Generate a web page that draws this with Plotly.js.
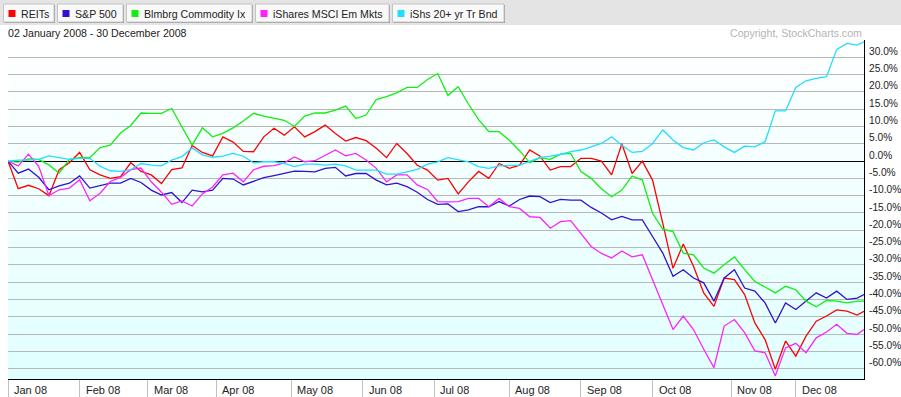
<!DOCTYPE html>
<html>
<head>
<meta charset="utf-8">
<script src="https://cdn.plot.ly/plotly-3.0.1.min.js"></script>
<style>html,body{margin:0;padding:0;background:#fff;}#chart{width:901px;height:397px;}</style>
</head>
<body>
<div id="chart"></div>
<script>
// trading-day index (0 = 02 Jan 2008, 251 = 30 Dec 2008)
const days = [0,3,6,9,12,15,18,21,24,27,30,33,36,39,42,45,48,51,54,57,60,63,66,69,72,75,78,81,84,87,90,93,96,99,102,105,108,111,114,117,120,123,126,129,132,135,138,141,144,147,150,153,156,159,162,165,168,171,174,177,180,183,186,189,192,195,198,201,204,207,210,213,216,219,222,225,228,231,234,237,240,243,246,249,251];

const reits = [0,-8,-7,-8,-10,-2.5,-0.5,2.5,-2.5,-4,-5,-4.5,-0.5,-3,-4,-6.5,-2.5,-2,4.5,2.5,1.5,7,5.5,2.8,2.7,7,9.5,7.5,9.9,7,8.5,10.4,8,5.8,6.8,5.9,3.7,1,5.1,2.2,-1.2,-2.6,-5.5,-5,-9.5,-6,-3,-5,-0.7,-2.1,-1.2,3.2,1.4,-2.6,-1.6,-1.6,0.8,0.8,0,-4,5,-3.6,0,-5.5,-18,-31,-24,-30.4,-38.1,-42,-33.8,-34.3,-38.6,-46.8,-51.6,-60.2,-52,-56.4,-50.6,-46.3,-44.8,-43,-43.4,-44.5,-43.4];

const sp500 = [0,-3.5,-2.3,-4.7,-8.3,-7.2,-6.4,-4.3,-7.8,-7.2,-6.4,-6.4,-5,-6.2,-8.4,-9.8,-9.1,-12,-8.4,-8.9,-8.4,-5,-5.2,-6.9,-5.8,-4.8,-4.2,-3.6,-2.9,-3,-3.1,-2.1,-1.8,-4.3,-3.6,-3.6,-5.5,-6.9,-6.4,-7.4,-9,-11.1,-12.5,-12.4,-14.6,-14.1,-13.2,-13.2,-11.7,-13,-11.1,-10.1,-10.3,-12,-11.1,-11.3,-11.3,-13.4,-15,-17,-16,-17,-17,-21.8,-26.6,-33.3,-31.4,-33.8,-35.2,-40.5,-33.8,-31.4,-36.7,-37.6,-41,-46.8,-41,-42.9,-40.5,-38.1,-39.6,-37.6,-40,-39.6,-38.6];

const commodity = [0,-0.3,0.6,0.5,-1.1,-3.5,0.5,1,1,3.9,4.6,8.1,10.3,13.9,13.8,13.8,15.2,9.9,4.6,9.6,7,8,9.6,11.6,13.8,13,12.3,11.8,10,13,13.9,13.9,14.7,15.9,12.3,13.3,17.8,18.6,19.7,21.3,21.3,23.6,25.3,19,21.5,16.5,12,8.5,8.5,6,3,-0.5,1,0.5,2,2.2,-3,-5,-8,-10.3,-8.4,-4.3,-5.5,-15.1,-19.7,-20.4,-26.6,-27.1,-30.9,-32.4,-30,-27.7,-31.4,-34.8,-36.4,-38.1,-36.2,-37.2,-40.5,-42.1,-40.3,-40.5,-41,-40.5,-40.5];

const emMkts = [0,-1.4,2,-1.5,-10,-8.3,-7.8,-5.4,-11.5,-9.3,-5.9,-4.7,-2.5,-2,-6,-9,-12.5,-11.5,-13,-9.5,-7.5,-4,-3.5,-6,-2.5,-1.5,-1.3,-0.5,1.2,-0.2,0.1,1.7,3.2,1.5,2.2,0.3,-2.1,-6,-4,-4,-6.9,-8.2,-11.7,-11.8,-11.7,-10.8,-10.8,-13.2,-10.8,-13.2,-13.7,-16.1,-16.3,-19.4,-17.5,-17.2,-20.9,-24.7,-26.7,-28,-26,-27.7,-27.1,-34.3,-41.5,-48.7,-44.8,-48.7,-54.4,-59.7,-47.7,-45.8,-49.6,-54.9,-55.4,-62.1,-54,-52.7,-55.4,-51.1,-49.4,-47.2,-49.8,-50.1,-48.7];

const bond20 = [0,0.3,0.3,0.5,1.5,1,0.5,0.8,0.8,-1.5,-2.8,-3,-2.5,-0.7,-1.2,-1.4,0.3,1.3,3.8,1.8,1.1,1.4,2.2,1.4,-0.5,-0.2,-0.2,-0.7,-1.6,-0.9,-0.9,-1.2,-0.9,-1.4,-2.6,-2.6,-2.6,-3.8,-3.8,-3.1,-2.4,-0.9,-0.2,1,0.5,-0.2,-1.6,-2.1,-1.4,-1.3,-1.2,-0.1,1.1,1.4,1.9,2.7,3.2,4.1,5.1,7,4.6,2.5,2.8,5.1,9,6.1,3.9,3.2,5.3,6.1,4.1,2.5,4.3,4.1,5.6,14.5,14.5,21.3,23.2,23.9,24.4,32.3,34,33.5,34.5];

const seriesNames = ['REITs','S&P 500','Blmbrg Commodity Ix','iShares MSCI Em Mkts','iShs 20+ yr Tr Bnd'];
const seriesData = [reits, sp500, commodity, emMkts, bond20];
const seriesColors = ['#ff0000','#3311cc','#11ee11','#ff22ff','#22ddff'];

const monthStarts = [0,21,41,61,83,104,125,147,168,189,212,231];
const monthLabels = ['Jan 08','Feb 08','Mar 08','Apr 08','May 08','Jun 08','Jul 08','Aug 08','Sep 08','Oct 08','Nov 08','Dec 08'];
const yTicks = [30,25,20,15,10,5,0,-5,-10,-15,-20,-25,-30,-35,-40,-45,-50,-55,-60];
const yTickText = yTicks.map(v => v.toFixed(1) + '%');

const dateText = '02 January 2008 - 30 December 2008';
const copyText = 'Copyright, StockCharts.com';

// geometry helpers (pixels -> paper)
const W = 901, H = 397, ML = 8, MR = 37, MT = 40, MB = 18;
const PW = W - ML - MR, PH = H - MT - MB;
const px = p => (p - ML) / PW;
const py = p => (H - MB - p) / PH;
const FONT = 'Liberation Sans, Arial, sans-serif';

const traces = seriesData.map((d, k) => ({
  x: days, y: d, type: 'scatter', mode: 'lines', name: seriesNames[k],
  line: {color: seriesColors[k], width: 1.3}, hoverinfo: 'skip'
}));

const shapes = [];
// background gradient (white top -> light cyan bottom)
const yLo = -63, yHi = 35, nb = 49;
for (let i = 0; i < nb; i++) {
  const a = yLo + (yHi - yLo) * i / nb, b = yLo + (yHi - yLo) * (i + 1) / nb;
  const t = (i + 0.5) / nb;
  const r = Math.round(224 + 31 * t);
  shapes.push({type: 'rect', layer: 'below', xref: 'paper', yref: 'y', x0: 0, x1: 1, y0: a, y1: b,
    fillcolor: `rgb(${r},255,255)`, line: {width: 0}});
}
// header bar
shapes.push({type: 'rect', layer: 'above', xref: 'paper', yref: 'paper', x0: px(0), x1: px(901), y0: py(25), y1: py(0),
  fillcolor: '#e4e4e4', line: {width: 0}});
const boxes = [[3.5,54],[57.5,123],[126.5,252],[255.5,389],[392.5,504]];
const annotations = [];
boxes.forEach((bx, k) => {
  shapes.push({type: 'rect', layer: 'above', xref: 'paper', yref: 'paper', x0: px(bx[0] + 1), x1: px(bx[1] + 1), y0: py(23), y1: py(5),
    fillcolor: '#9a9a9a', line: {width: 0}});
  shapes.push({type: 'rect', layer: 'above', xref: 'paper', yref: 'paper', x0: px(bx[0]), x1: px(bx[1]), y0: py(22), y1: py(4),
    fillcolor: '#f9f9f9', line: {width: 1, color: '#c4c4c4'}});
  shapes.push({type: 'rect', layer: 'above', xref: 'paper', yref: 'paper', x0: px(bx[0] + 5), x1: px(bx[0] + 12), y0: py(17), y1: py(10),
    fillcolor: seriesColors[k], line: {width: 0}});
  annotations.push({xref: 'paper', yref: 'paper', x: px(bx[0] + 16.5), y: py(13.5), xanchor: 'left', yanchor: 'middle',
    text: seriesNames[k], showarrow: false, font: {family: FONT, size: 10.6, color: '#222'}, borderpad: 0});
});
annotations.push({xref: 'paper', yref: 'paper', x: px(7), y: py(33), xanchor: 'left', yanchor: 'middle',
  text: dateText, showarrow: false, font: {family: FONT, size: 10.6, color: '#222'}, borderpad: 0});
annotations.push({xref: 'paper', yref: 'paper', x: px(863), y: py(33), xanchor: 'right', yanchor: 'middle',
  text: copyText, showarrow: false, font: {family: FONT, size: 10.6, color: '#b4b4b4'}, borderpad: 0});
monthStarts.forEach((m, k) => {
  annotations.push({xref: 'x', yref: 'paper', x: m, y: py(389.5), xanchor: 'left', yanchor: 'middle', xshift: 5,
    text: monthLabels[k], showarrow: false, font: {family: FONT, size: 11, color: '#222'}, borderpad: 0});
});

const layout = {
  width: W, height: H,
  margin: {l: ML, r: MR, t: MT, b: MB, pad: 0},
  paper_bgcolor: '#ffffff', plot_bgcolor: '#ffffff',
  showlegend: false,
  xaxis: {range: [0, 251], showgrid: false, zeroline: false, tickmode: 'array', tickvals: monthStarts,
    ticktext: monthStarts.map(() => ''), ticks: 'outside', ticklen: 18, tickcolor: '#c0c0c0', tickwidth: 1,
    showline: true, linecolor: '#000', linewidth: 1, fixedrange: true},
  yaxis: {range: [-63, 35], side: 'right', tickmode: 'array', tickvals: yTicks, ticktext: yTickText,
    showgrid: true, gridcolor: '#b8b8b8', gridwidth: 1, zeroline: true, zerolinecolor: '#000', zerolinewidth: 1,
    showline: true, linecolor: '#000', linewidth: 1, ticks: '', ticklabelshift: -6, ticklabelstandoff: 2,
    tickfont: {family: FONT, size: 10.2, color: '#222'}, fixedrange: true},
  shapes: shapes,
  annotations: annotations
};

Plotly.newPlot('chart', traces, layout, {displayModeBar: false, staticPlot: true});
</script>
</body>
</html>
